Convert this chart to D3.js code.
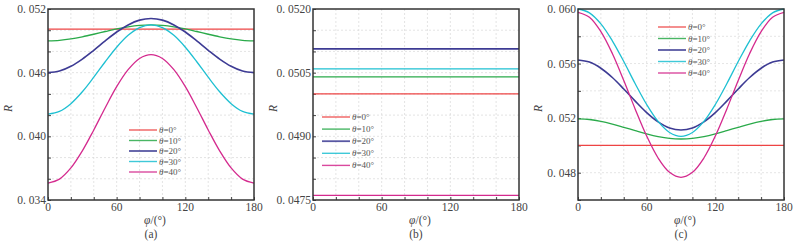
<!DOCTYPE html>
<html>
<head>
<meta charset="utf-8">
<script src="https://cdn.jsdelivr.net/npm/d3@7"></script>
<style>
  body { margin: 0; background: #fff; }
  svg { display: block; }
</style>
</head>
<body>
<div id="chart"></div>
<script>
// angle phi, degrees
const phi = [0, 10, 20, 30, 40, 50, 60, 70, 80, 90, 100, 110, 120, 130, 140, 150, 160, 170, 180]
const legend_labels = ["0°", "10°", "20°", "30°", "40°"]
const line_colors = ["#ee4444", "#2aaa4a", "#3d3b94", "#1ec0d2", "#d42a8e"]

// panel (a)
const a_theta0  = [0.0501, 0.0501, 0.0501, 0.0501, 0.0501, 0.0501, 0.0501, 0.0501, 0.0501, 0.0501, 0.0501, 0.0501, 0.0501, 0.0501, 0.0501, 0.0501, 0.0501, 0.0501, 0.0501]
const a_theta10 = [0.0490, 0.04905, 0.04918, 0.04938, 0.04962, 0.04988, 0.05013, 0.05032, 0.05045, 0.0505, 0.05045, 0.05032, 0.05013, 0.04988, 0.04962, 0.04938, 0.04918, 0.04905, 0.0490]
const a_theta20 = [0.0460, 0.04615, 0.0466, 0.04728, 0.04811, 0.04899, 0.04983, 0.0505, 0.05095, 0.0511, 0.05095, 0.0505, 0.04983, 0.04899, 0.04811, 0.04728, 0.0466, 0.04615, 0.0460]
const a_theta30 = [0.0421, 0.04235, 0.04308, 0.0442, 0.04557, 0.04703, 0.0484, 0.04952, 0.05025, 0.0505, 0.05025, 0.04952, 0.0484, 0.04703, 0.04557, 0.0442, 0.04308, 0.04235, 0.0421]
const a_theta40 = [0.0356, 0.03597, 0.03702, 0.03863, 0.0406, 0.0427, 0.04468, 0.04628, 0.04734, 0.0477, 0.04734, 0.04628, 0.04468, 0.0427, 0.0406, 0.03863, 0.03702, 0.03597, 0.0356]
const a_yticks = [0.034, 0.036, 0.038, 0.040, 0.042, 0.044, 0.046, 0.048, 0.050, 0.052]
const a_ylabels = ["0. 034", "0. 040", "0. 046", "0. 052"]

// panel (b): every curve is flat
const b_theta0  = [0.0500, 0.0500]
const b_theta10 = [0.05040, 0.05040]
const b_theta20 = [0.05106, 0.05106]
const b_theta30 = [0.05059, 0.05059]
const b_theta40 = [0.04761, 0.04761]
const b_phi = [0, 180]
const b_yticks = [0.0475, 0.0480, 0.0485, 0.0490, 0.0495, 0.0500, 0.0505, 0.0510, 0.0515, 0.0520]
const b_ylabels = ["0. 0475", "0. 0490", "0. 0505", "0. 0520"]

// panel (c)
const c_theta0  = [0.0500, 0.0500, 0.0500, 0.0500, 0.0500, 0.0500, 0.0500, 0.0500, 0.0500, 0.0500, 0.0500, 0.0500, 0.0500, 0.0500, 0.0500, 0.0500, 0.0500, 0.0500, 0.0500]
const c_theta10 = [0.05194, 0.05190, 0.05177, 0.05157, 0.05133, 0.05108, 0.05084, 0.05064, 0.05051, 0.05047, 0.05051, 0.05064, 0.05084, 0.05108, 0.05133, 0.05157, 0.05177, 0.05190, 0.05194]
const c_theta20 = [0.05626, 0.05611, 0.05566, 0.05498, 0.05414, 0.05325, 0.05241, 0.05173, 0.05128, 0.05113, 0.05128, 0.05173, 0.05241, 0.05325, 0.05414, 0.05498, 0.05566, 0.05611, 0.05626]
const c_theta30 = [0.0600, 0.05972, 0.05891, 0.05767, 0.05615, 0.05452, 0.05300, 0.05176, 0.05095, 0.05067, 0.05095, 0.05176, 0.05300, 0.05452, 0.05615, 0.05767, 0.05891, 0.05972, 0.0600]
const c_theta40 = [0.05976, 0.05940, 0.05834, 0.05674, 0.05476, 0.05266, 0.05069, 0.04908, 0.04803, 0.04766, 0.04803, 0.04908, 0.05069, 0.05266, 0.05476, 0.05674, 0.05834, 0.05940, 0.05976]
const c_yticks = [0.046, 0.048, 0.050, 0.052, 0.054, 0.056, 0.058, 0.060]
const c_ylabels = ["0. 048", "0. 052", "0. 056", "0. 060"]

const xticks = [0, 20, 40, 60, 80, 100, 120, 140, 160, 180]
const xlabels = [0, 60, 120, 180]

const font = "'Liberation Serif', 'DejaVu Serif', serif"

const svg = d3.select("#chart").append("svg")
    .attr("width", 793)
    .attr("height", 243)
    .attr("font-family", font)

function draw_panel(param) {
    const left = param.left, top = 9, width = 206, height = 191
    const g = svg.append("g")
        .attr("transform", "translate(" + left + "," + top + ")")

    const x = d3.scaleLinear().domain([0, 180]).range([0, width])
    const y = d3.scaleLinear().domain(param.ydomain).range([height, 0])

    // grid
    g.append("g")
        .selectAll("line")
        .data(xticks.slice(1, -1))
        .enter().append("line")
        .attr("x1", d => x(d)).attr("x2", d => x(d))
        .attr("y1", 0).attr("y2", height)
        .attr("stroke", "#d8d8d8").attr("stroke-width", 0.7)
        .attr("stroke-dasharray", "2,2")
    g.append("g")
        .selectAll("line")
        .data(param.yticks.slice(1, -1))
        .enter().append("line")
        .attr("x1", 0).attr("x2", width)
        .attr("y1", d => y(d)).attr("y2", d => y(d))
        .attr("stroke", "#d8d8d8").attr("stroke-width", 0.7)
        .attr("stroke-dasharray", "2,2")

    // axes, ticks inward
    g.append("g")
        .attr("transform", "translate(0," + height + ")")
        .call(d3.axisBottom(x).tickValues(xticks).tickSize(-3).tickFormat(""))
        .call(s => s.select(".domain").remove())
        .call(s => s.selectAll("line").attr("stroke", "#444"))
    g.append("g")
        .call(d3.axisLeft(y).tickValues(param.yticks).tickSize(-3).tickFormat(""))
        .call(s => s.select(".domain").remove())
        .call(s => s.selectAll("line").attr("stroke", "#444"))

    g.append("g")
        .selectAll("text")
        .data(xlabels)
        .enter().append("text")
        .attr("x", d => x(d))
        .attr("y", height + 11)
        .attr("text-anchor", "middle")
        .attr("font-family", font)
        .attr("font-size", 11.5)
        .attr("fill", "#444")
        .text(d => d)

    g.append("g")
        .selectAll("text")
        .data(param.ylabels)
        .enter().append("text")
        .attr("x", -2)
        .attr("y", d => y(+d.replace(" ", "")) + 4)
        .attr("text-anchor", "end")
        .attr("font-family", font)
        .attr("font-size", 11.5)
        .attr("fill", "#444")
        .text(d => d)

    // curves
    const line = d3.line()
        .x((d, i) => x(param.phi[i]))
        .y(d => y(d))
        .curve(d3.curveCatmullRom)
    param.series.forEach(function (s, i) {
        g.append("path")
            .datum(s)
            .attr("fill", "none")
            .attr("stroke", line_colors[i])
            .attr("stroke-width", i === 2 ? 1.6 : 1.3)
            .attr("d", line)
    })

    // frame
    g.append("rect")
        .attr("width", width).attr("height", height)
        .attr("fill", "none")
        .attr("stroke", "#333").attr("stroke-width", 1.5)

    // legend
    const lg = g.append("g")
        .attr("transform", "translate(" + (param.legend[0] - left) + "," + (param.legend[1] - top) + ")")
    legend_labels.forEach(function (lab, i) {
        lg.append("line")
            .attr("x1", 0).attr("x2", 28)
            .attr("y1", i * param.legend[2]).attr("y2", i * param.legend[2])
            .attr("stroke", line_colors[i])
            .attr("stroke-width", i === 2 ? 1.8 : 1.4)
            .attr("opacity", 0.85)
        const t = lg.append("text")
            .attr("x", 30)
            .attr("y", i * param.legend[2] + 3)
            .attr("font-family", font)
            .attr("font-size", 9)
            .attr("fill", "#555")
        t.append("tspan").attr("font-style", "italic").text("θ")
        t.append("tspan").text("=" + lab)
    })

    // axis titles
    svg.append("text")
        .attr("transform", "translate(" + (left - 36) + "," + (top + height / 2 + 4) + ") rotate(-90)")
        .attr("text-anchor", "middle")
        .attr("font-family", font)
        .attr("font-size", 11.5)
        .attr("font-style", "italic")
        .attr("fill", "#444")
        .text("R")
    const xt = svg.append("text")
        .attr("x", left + width / 2 + 4)
        .attr("y", 224)
        .attr("text-anchor", "middle")
        .attr("font-family", font)
        .attr("font-size", 11.5)
        .attr("fill", "#444")
    xt.append("tspan").attr("font-style", "italic").text("φ")
    xt.append("tspan").text("/(°)")
    svg.append("text")
        .attr("x", left + width / 2)
        .attr("y", 238)
        .attr("text-anchor", "middle")
        .attr("font-family", font)
        .attr("font-size", 11.5)
        .attr("fill", "#444")
        .text(param.tag)
}

draw_panel({
    left: 48, ydomain: [0.034, 0.052], yticks: a_yticks, ylabels: a_ylabels, phi: phi,
    series: [a_theta0, a_theta10, a_theta20, a_theta30, a_theta40],
    legend: [129, 130, 10.5], tag: "(a)"
})
draw_panel({
    left: 313, ydomain: [0.0475, 0.0520], yticks: b_yticks, ylabels: b_ylabels, phi: b_phi,
    series: [b_theta0, b_theta10, b_theta20, b_theta30, b_theta40],
    legend: [322, 117, 12.1], tag: "(b)"
})
draw_panel({
    left: 578, ydomain: [0.046, 0.060], yticks: c_yticks, ylabels: c_ylabels, phi: phi,
    series: [c_theta0, c_theta10, c_theta20, c_theta30, c_theta40],
    legend: [658, 27, 11.5], tag: "(c)"
})
</script>
</body>
</html>
